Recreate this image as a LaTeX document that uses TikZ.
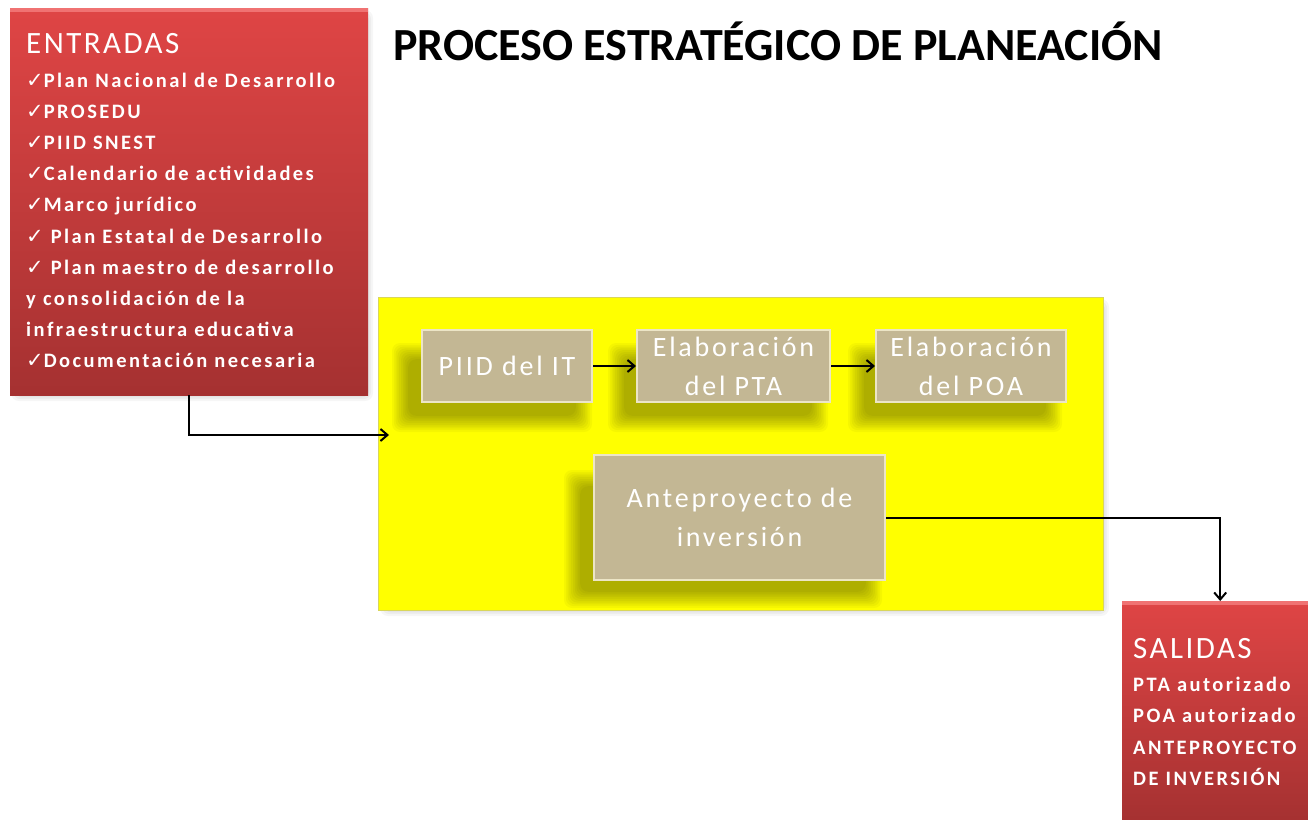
\documentclass[tikz,border=0pt]{standalone}
\usepackage{fontspec}
\setmainfont{Carlito}
\newfontfamily\chkf{DejaVu Sans}
\newfontfamily\redf[LetterSpace=12]{Carlito}
\newfontfamily\headf[LetterSpace=8]{Carlito}
\newfontfamily\procf[LetterSpace=10]{Carlito}
\usetikzlibrary{arrows.meta,calc}
\definecolor{redtop}{HTML}{DF4545}
\definecolor{redbot}{HTML}{A53131}
\definecolor{redhi}{HTML}{F07272}
\definecolor{beige}{HTML}{C3B794}
\definecolor{beigeedge}{HTML}{ECE5C6}
\definecolor{yelfill}{HTML}{FFFF00}
\definecolor{yeledge}{HTML}{D9D65A}
\newcommand\softshadow[4]{%
  \foreach \i in {0,...,9}{%
    \fill[black, opacity=0.035, rounded corners=8pt]
      ({#1+\i*1.8},{#2+\i*1.8}) rectangle ({#3-\i*1.8},{#4-\i*1.8});
  }}
\tikzset{
  redbox/.style={rectangle, inner sep=0, top color=redtop, bottom color=redbot, draw=none, anchor=north west},
  procbox/.style={rectangle, inner sep=0, fill=beige, draw=beigeedge, line width=2pt,
    text=white, font=\procf\fontsize{28}{39}\selectfont, align=center},
  item/.style={anchor=base west, inner sep=0, text=white, font=\redf\bfseries\fontsize{20.5}{23}\selectfont},
  head/.style={anchor=base west, inner sep=0, text=white, font=\headf\fontsize{31}{36}\selectfont},
  conn/.style={line width=2pt, -{Straight Barb[length=7pt,width=12pt,line width=2pt]}},
}
\newcommand\ck{{\chkf\fontsize{21}{22}\selectfont ✓}}
\begin{document}
\begin{tikzpicture}[x=1pt,y=-1pt]
\useasboundingbox (0,0) rectangle (1308,819);
\fill[white] (0,0) rectangle (1308,819);

% title
\node[font=\bfseries\fontsize{46}{52}\selectfont, inner sep=0] (title) at (778,41) {PROCESO ESTRATÉGICO DE PLANEACIÓN};

% ENTRADAS box
\softshadow{11}{10}{373}{401}
\node[redbox, minimum width=358pt, minimum height=387pt] (ent) at (10,8) {};
\fill[redhi] (10,8) rectangle (368,12);
\node[head] (enthead) at (26,53) {ENTRADAS};
\node[item] (e1) at (26,87) {\ck Plan Nacional de Desarrollo};
\node[item] (e2) at (26,118.2) {\ck PROSEDU};
\node[item] (e3) at (26,149.4) {\ck PIID SNEST};
\node[item] (e4) at (26,180.6) {\ck Calendario de actividades};
\node[item] (e5) at (26,211.8) {\ck Marco jurídico};
\node[item] (e6) at (26,243) {\ck\ Plan Estatal de Desarrollo};
\node[item] (e7) at (26,274.2) {\ck\ Plan maestro de desarrollo};
\node[item] (e8) at (26,305.4) {y consolidación de la};
\node[item] (e9) at (26,336.6) {infraestructura educativa};
\node[item] (e10) at (26,367.8) {\ck Documentación necesaria};

% yellow process box
\softshadow{380}{299}{1109}{616}
\node[rectangle, inner sep=0, fill=yelfill, draw=yeledge, line width=1pt, anchor=north west,
  minimum width=725pt, minimum height=313pt] (proc) at (378,297) {};

% inner shadows
\softshadow{392}{343}{592}{432}
\softshadow{608}{343}{828}{432}
\softshadow{848}{343}{1062}{432}
\softshadow{564}{470}{882}{608}

% process steps
\node[procbox, minimum width=170pt, minimum height=72pt] (piid) at (507,366) {PIID del IT};
\node[procbox, minimum width=193pt, minimum height=72pt] (pta) at (733.5,366) {Elaboración\\del PTA};
\node[procbox, minimum width=190pt, minimum height=72pt] (poa) at (971,366) {Elaboración\\del POA};
\node[procbox, minimum width=291pt, minimum height=125pt] (ante) at (739.5,517.5) {Anteproyecto de\\inversión};

% SALIDAS box
\softshadow{1124}{604}{1312}{825}
\node[redbox, minimum width=190pt, minimum height=220pt] (sal) at (1122,601) {};
\fill[redhi] (1122,601) rectangle (1312,605);
\node[head] (salhead) at (1133,658) {SALIDAS};
\node[item] (s1) at (1133,691) {PTA autorizado};
\node[item] (s2) at (1133,722) {POA autorizado};
\node[item] (s3) at (1133,754) {ANTEPROYECTO};
\node[item] (s4) at (1133,785) {DE INVERSIÓN};

% connectors
\coordinate (entin) at (389,435);
\draw[conn] (ent.south) |- (entin);
\draw[conn] (piid.east) -- (pta.west);
\draw[conn] (pta.east) -- (poa.west);
\draw[conn] (ante.east) -| ([xshift=3pt]sal.north);
\end{tikzpicture}
\end{document}
